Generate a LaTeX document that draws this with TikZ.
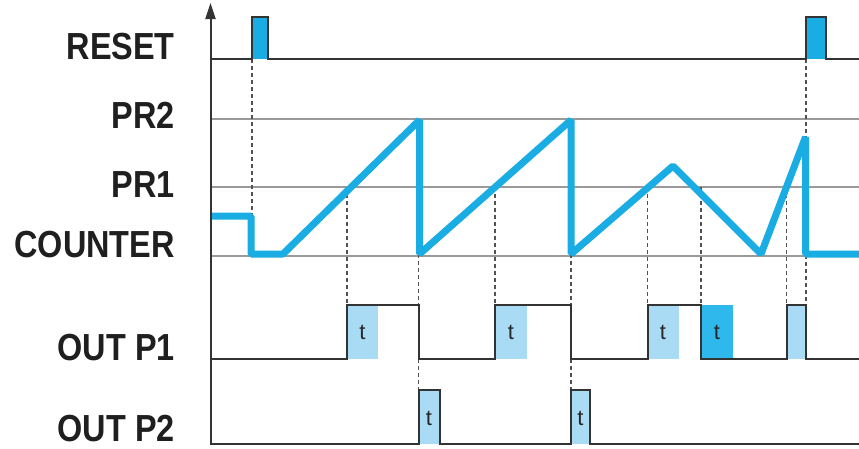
\documentclass[tikz,border=0pt]{standalone}
\usepackage{fontspec}
\setmainfont{Liberation Sans}
\newfontfamily\lblfont[FakeStretch=0.86]{Liberation Sans}
\usetikzlibrary{arrows.meta}
\definecolor{cyanline}{HTML}{1AADE4}
\definecolor{lightbox}{HTML}{A9DCF4}
\definecolor{darkbox}{HTML}{2EB8EC}
\definecolor{levelgray}{HTML}{9A9A9A}
\definecolor{ink}{HTML}{333333}
\tikzset{
  lbl/.style={anchor=base east, inner sep=0pt, text=black!88,
    font=\lblfont\bfseries\fontsize{37.7}{40}\selectfont},
  tlbl/.style={inner sep=0pt, text=black!85, font=\fontsize{22}{24}\selectfont},
  level/.style={draw=levelgray, line width=1.5pt},
  sig/.style={draw=ink, line width=2pt, line join=miter},
  guide/.style={draw=ink!85, line width=1.1pt, dash pattern=on 4pt off 3pt},
  counter/.style={draw=cyanline, line width=7pt, line join=bevel},
  tbox/.style={fill=lightbox, draw=none},
  tboxdark/.style={fill=darkbox, draw=none},
}
\begin{document}
\begin{tikzpicture}[x=1pt,y=-1pt]
\useasboundingbox[fill=white] (0,0) rectangle (859,448);
% labels
\node[lbl] (lreset) at (175,59) {RESET};
\node[lbl] (lpr2) at (175,128) {PR2};
\node[lbl] (lpr1) at (175,197) {PR1};
\node[lbl] (lcnt) at (175,257) {COUNTER};
\node[lbl] (lp1) at (175,360) {OUT P1};
\node[lbl] (lp2) at (175,441.5) {OUT P2};
% level lines
\draw[level] (210.5,119) -- (859,119);
\draw[level] (210.5,187) -- (859,187);
\draw[level] (210.5,256) -- (859,256);
% t boxes OUT P1
\fill[tbox] (347,305) rectangle (378,359);
\fill[tbox] (495,305) rectangle (527,359);
\fill[tbox] (647.5,305) rectangle (679,359);
\fill[tboxdark] (701,305) rectangle (733,359);
\fill[tbox] (786.5,305) rectangle (806,359);
% t boxes OUT P2
\fill[tbox] (418.5,390) rectangle (440,444);
\fill[tbox] (571,390) rectangle (590,444);
\node[tlbl] (t1) at (362.5,332) {t};
\node[tlbl] (t2) at (511,332) {t};
\node[tlbl] (t3) at (663,332) {t};
\node[tlbl] (t4) at (717,332) {t};
\node[tlbl] (t5) at (429,418) {t};
\node[tlbl] (t6) at (580.5,418) {t};
% reset pulses fill
\fill[cyanline] (252,17) rectangle (268,59);
\fill[cyanline] (806,17) rectangle (826,59);
% dashed guides
\draw[guide] (252,59) -- (252,216);
\draw[guide] (806,59) -- (806,305);
\draw[guide] (347,187) -- (347,305);
\draw[guide] (495,187) -- (495,305);
\draw[guide] (647.5,187) -- (647.5,305);
\draw[guide] (701,187) -- (701,305);
\draw[guide] (786.5,187) -- (786.5,305);
\draw[guide] (418.5,254) -- (418.5,390);
\draw[guide] (571,254) -- (571,390);
% counter
\draw[counter] (210.5,216) -- (251,216) -- (251,254) -- (283,254)
  -- (419.5,120) -- (419.5,254) -- (571,120) -- (571,254)
  -- (673,166) -- (761,254) -- (805.5,137) -- (805.5,254) -- (859,254);
% axis
\draw[ink, line width=2pt, -{Triangle[length=16pt,width=10pt]}] (210.5,445) -- (210.5,3);
% reset signal
\draw[sig] (210.5,59) -- (252,59) -- (252,17) -- (268,17) -- (268,59)
  -- (806,59) -- (806,17) -- (826,17) -- (826,59) -- (859,59);
% OUT P1
\draw[sig] (210.5,359) -- (347,359) -- (347,305) -- (418.5,305) -- (418.5,359)
  -- (495,359) -- (495,305) -- (571,305) -- (571,359)
  -- (647.5,359) -- (647.5,305) -- (701,305) -- (701,359)
  -- (786.5,359) -- (786.5,305) -- (806,305) -- (806,359) -- (859,359);
% OUT P2
\draw[sig] (210.5,444) -- (418.5,444) -- (418.5,390) -- (440,390) -- (440,444)
  -- (571,444) -- (571,390) -- (590,390) -- (590,444) -- (859,444);
\end{tikzpicture}
\end{document}
